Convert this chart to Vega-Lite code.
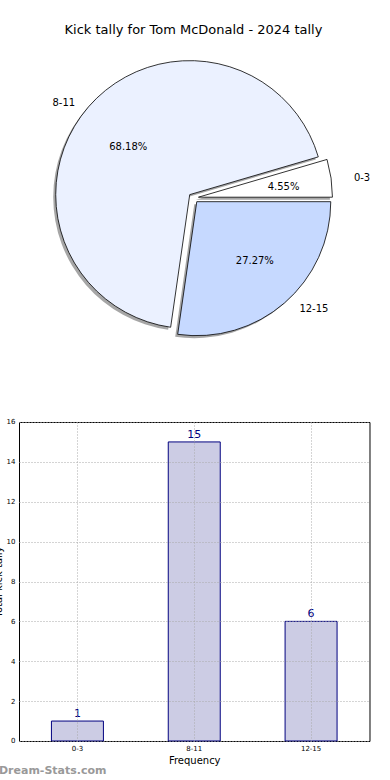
{
  "$schema": "https://vega.github.io/schema/vega-lite/v6.json",
  "padding": {"left": -8, "top": 23.6, "right": 0, "bottom": 0},
  "autosize": {"type": "pad"},
  "background": "white",
  "spacing": 67.4,
  "config": {
    "font": "DejaVu Sans",
    "view": {"stroke": null},
    "axis": {"labelFont": "DejaVu Sans", "titleFont": "DejaVu Sans", "labelColor": "#000", "titleColor": "#000", "titleFontWeight": "normal"},
    "title": {"font": "DejaVu Sans", "fontWeight": "normal", "color": "#000"}
  },
  "datasets": {
    "kicks": [
      {"cat": "0-3", "count": 1, "ord": 1, "pct": "4.55%"},
      {"cat": "8-11", "count": 15, "ord": 2, "pct": "68.18%"},
      {"cat": "12-15", "count": 6, "ord": 3, "pct": "27.27%"}
    ]
  },
  "vconcat": [
    {
      "width": 349,
      "height": 302.6,
      "view": {"stroke": null},
      "title": {"text": "Kick tally for Tom McDonald - 2024 tally", "fontSize": 13, "baseline": "alphabetic", "offset": 0, "anchor": "middle", "frame": "group"},
      "data": {"name": "kicks"},
      "encoding": {
        "theta": {"field": "count", "type": "quantitative", "stack": true, "scale": {"domain": [0, 22], "range": [1.5708, -4.7124]}},
        "order": {"field": "ord", "type": "quantitative"}
      },
      "layer": [
        {"mark": {"type": "arc", "outerRadius": 134, "fill": "#4d4d4d", "xOffset": 2.45, "yOffset": 1.79},
         "encoding": {"opacity": {"condition": {"test": "datum.cat === '0-3'", "value": 0.5}, "value": 0}}},
        {"mark": {"type": "arc", "outerRadius": 134, "fill": "#4d4d4d", "xOffset": -6.28, "yOffset": -0.77},
         "encoding": {"opacity": {"condition": {"test": "datum.cat === '8-11'", "value": 0.5}, "value": 0}}},
        {"mark": {"type": "arc", "outerRadius": 134, "fill": "#4d4d4d", "xOffset": 0.77, "yOffset": 6.28},
         "encoding": {"opacity": {"condition": {"test": "datum.cat === '12-15'", "value": 0.5}, "value": 0}}},
        {"mark": {"type": "arc", "outerRadius": 134, "stroke": "#000", "strokeWidth": 0.8, "xOffset": 4.95, "yOffset": -0.71},
         "encoding": {
           "color": {"field": "cat", "type": "nominal", "legend": null, "scale": {"domain": ["0-3", "8-11", "12-15"], "range": ["#ffffff", "#ebf1ff", "#c6d9ff"]}},
           "opacity": {"condition": {"test": "datum.cat === '0-3'", "value": 1}, "value": 0}}},
        {"mark": {"type": "arc", "outerRadius": 134, "stroke": "#000", "strokeWidth": 0.8, "xOffset": -3.78, "yOffset": -3.27},
         "encoding": {
           "color": {"field": "cat", "type": "nominal", "legend": null, "scale": {"domain": ["0-3", "8-11", "12-15"], "range": ["#ffffff", "#ebf1ff", "#c6d9ff"]}},
           "opacity": {"condition": {"test": "datum.cat === '8-11'", "value": 1}, "value": 0}}},
        {"mark": {"type": "arc", "outerRadius": 134, "stroke": "#000", "strokeWidth": 0.8, "xOffset": 3.27, "yOffset": 3.78},
         "encoding": {
           "color": {"field": "cat", "type": "nominal", "legend": null, "scale": {"domain": ["0-3", "8-11", "12-15"], "range": ["#ffffff", "#ebf1ff", "#c6d9ff"]}},
           "opacity": {"condition": {"test": "datum.cat === '12-15'", "value": 1}, "value": 0}}},
        {"mark": {"type": "text", "radius": 84, "fontSize": 10, "color": "#000", "align": "center", "baseline": "middle", "xOffset": 4.95, "yOffset": -0.71, "dx": 2, "dy": 2},
         "encoding": {"text": {"condition": {"test": "datum.cat === '0-3'", "field": "pct", "type": "nominal"}, "value": ""}}},
        {"mark": {"type": "text", "radius": 80, "fontSize": 10, "color": "#000", "align": "center", "baseline": "middle", "xOffset": -3.78, "yOffset": -3.27, "dx": -1, "dy": 5},
         "encoding": {"text": {"condition": {"test": "datum.cat === '8-11'", "field": "pct", "type": "nominal"}, "value": ""}}},
        {"mark": {"type": "text", "radius": 81, "fontSize": 10, "color": "#000", "align": "center", "baseline": "middle", "xOffset": 3.27, "yOffset": 3.78, "dx": 5, "dy": -2},
         "encoding": {"text": {"condition": {"test": "datum.cat === '12-15'", "field": "pct", "type": "nominal"}, "value": ""}}},
        {"mark": {"type": "text", "radius": 154, "fontSize": 10, "color": "#000", "align": "left", "baseline": "middle", "xOffset": 4.95, "yOffset": -0.71, "dx": 3, "dy": 3},
         "encoding": {"text": {"condition": {"test": "datum.cat === '0-3'", "field": "cat", "type": "nominal"}, "value": ""}}},
        {"mark": {"type": "text", "radius": 149, "fontSize": 10, "color": "#000", "align": "right", "baseline": "middle", "xOffset": -3.78, "yOffset": -3.27, "dx": -2, "dy": 6},
         "encoding": {"text": {"condition": {"test": "datum.cat === '8-11'", "field": "cat", "type": "nominal"}, "value": ""}}},
        {"mark": {"type": "text", "radius": 146, "fontSize": 10, "color": "#000", "align": "left", "baseline": "middle", "xOffset": 3.27, "yOffset": 3.78, "dx": 7, "dy": -3},
         "encoding": {"text": {"condition": {"test": "datum.cat === '12-15'", "field": "cat", "type": "nominal"}, "value": ""}}}
      ]
    },
    {
      "width": 350.5,
      "height": 319,
      "view": {"stroke": "#000", "strokeWidth": 1},
      "title": {"text": "Dream-Stats.com", "orient": "bottom", "anchor": "start", "frame": "group", "dx": -20, "offset": 0, "fontSize": 11, "fontWeight": "bold", "color": "#999999"},
      "data": {"name": "kicks"},
      "encoding": {
        "x": {"field": "cat", "type": "nominal", "sort": ["0-3", "8-11", "12-15"],
              "scale": {"paddingInner": 0.555, "paddingOuter": 0.2775},
              "axis": {"title": "Frequency", "titleFontSize": 10, "titlePadding": 4, "labelAngle": 0, "labelFontSize": 7, "labelPadding": 3.5, "ticks": false, "domain": false, "grid": true, "bandPosition": 0.5, "gridDash": [1, 2], "gridColor": "#aaaaaa", "gridWidth": 1, "zindex": 1}},
        "y": {"field": "count", "type": "quantitative", "scale": {"domain": [0, 16], "nice": false},
              "axis": {"title": "Total kick tally", "titleFontSize": 10, "titleX": -18, "titleBaseline": "alphabetic", "values": [0, 2, 4, 6, 8, 10, 12, 14, 16], "labelFontSize": 7, "labelPadding": 4, "ticks": false, "domain": false, "grid": true, "gridDash": [1, 2], "gridColor": "#aaaaaa", "gridWidth": 1, "zindex": 1}}
      },
      "layer": [
        {"mark": {"type": "bar", "fill": "#ccccE4", "stroke": "#000080", "strokeWidth": 1}},
        {"mark": {"type": "text", "dy": -4, "baseline": "alphabetic", "fontSize": 11, "color": "#000080"},
         "encoding": {"text": {"field": "count", "type": "quantitative"}}}
      ]
    }
  ]
}
